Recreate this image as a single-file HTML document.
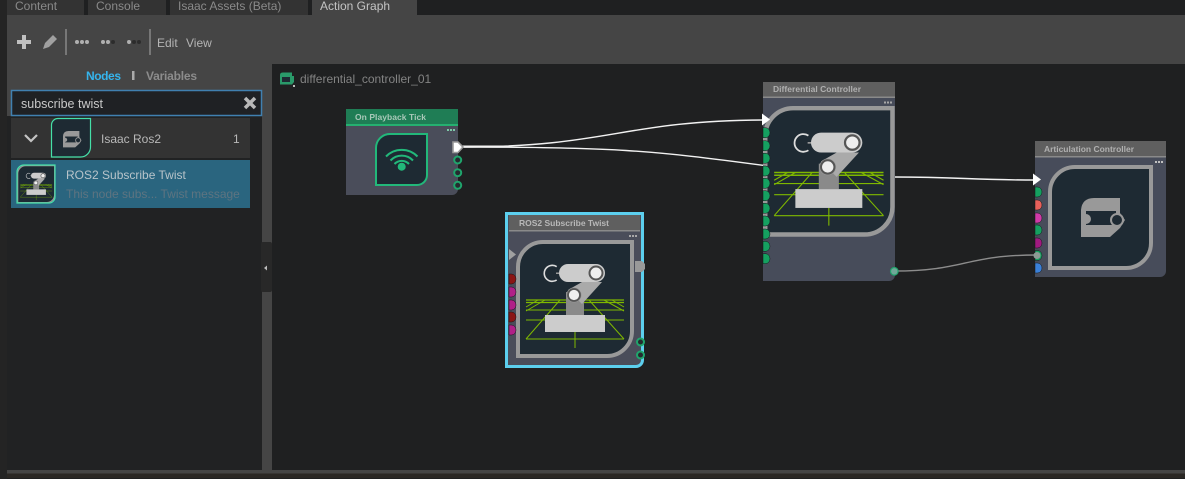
<!DOCTYPE html>
<html><head><meta charset="utf-8"><style>
html,body{margin:0;padding:0;background:#1f2021;width:1185px;height:479px;overflow:hidden}
svg{display:block}
text{font-family:"Liberation Sans",sans-serif}
</style></head><body>
<svg width="1185" height="479" viewBox="0 0 1185 479" xmlns="http://www.w3.org/2000/svg">
<defs>
<g id="robot">
<path d="M27 2H116V91A25 25 0 0 1 91 116H2V27A25 25 0 0 1 27 2Z" fill="#1e2a33" stroke="#999" stroke-width="4"/>
<g stroke="#7fb800" fill="none">
<path d="M10 60H108M10 62.500H108" stroke-width="1.300"/>
<path d="M10 70H108M10 80H108M10 99H108" stroke-width="1"/>
<path d="M10 99L44 60M108 99L73 60M10 71L29 60M108 71L88 60M10 67L22 60M108 67L96 60M59 92V108" stroke-width="1"/>
</g>
<path d="M40.700 26.700A8 8 0 1 0 40.700 40" fill="none" stroke="#ddd" stroke-width="1.600"/>
<rect x="40" y="32.500" width="5" height="1.500" fill="#999"/>
<path d="M50 52H68V75H50Z" fill="#8a8a8a"/>
<path d="M66 42H86L66 64L52 50Z" fill="#aaa"/>
<rect x="43" y="24" width="46" height="18" rx="9" fill="#ccc"/>
<circle cx="80" cy="33" r="6.500" fill="#eee" stroke="#555" stroke-width="2"/>
<circle cx="58" cy="55" r="7.500" fill="#999"/>
<circle cx="58" cy="55" r="6" fill="#eee" stroke="#555" stroke-width="1.800"/>
<rect x="29" y="75" width="60" height="17" fill="#ccc"/>
</g>
<g id="pin"><path d="M0 -5H2.500A4.500 5 0 0 1 2.500 5H0Z" stroke="#15171a" stroke-width=".5"/></g>
<path id="exec" d="M0 -6L8 0L0 6Z" fill="#fff"/>
<g id="node-icon">
<!-- origin at 1081,198 ; size 39x39 -->
<path d="M0 39V12Q1 0 13 0H39V15L44 22L39 30L29 39Z" fill="#999"/>
<path d="M5 13H35V27H5V26A5 5 0 0 0 5 16Z" fill="#1e2a33"/>
<circle cx="36" cy="22" r="6" fill="#1e2a33" stroke="#999" stroke-width="2"/>
</g>
</defs>

<!-- chrome -->
<rect width="1185" height="479" fill="#1f2021"/>
<rect x="7" y="15" width="1178" height="49" fill="#454545"/>
<rect x="7" y="64" width="265" height="52" fill="#454545"/>
<rect x="262" y="64" width="10" height="406" fill="#454545"/>
<rect x="7" y="116" width="255" height="354" fill="#212223"/>
<rect x="7" y="470" width="1178" height="3.500" fill="#454545"/>
<rect x="7" y="473.500" width="1178" height="4.500" fill="#2a2724"/>
<rect x="0" y="0" width="7" height="479" fill="#242424"/>
<!-- tabs -->
<rect x="7" y="0" width="77" height="15" fill="#333"/>
<rect x="88" y="0" width="78" height="15" fill="#333"/>
<rect x="170" y="0" width="138" height="15" fill="#333"/>
<rect x="312" y="0" width="105" height="15" fill="#454545"/>
<text x="15" y="10" font-size="12" fill="#8a8a8a">Content</text>
<text x="96" y="10" font-size="12" fill="#8a8a8a">Console</text>
<text x="178" y="10" font-size="12" fill="#8a8a8a">Isaac Assets (Beta)</text>
<text x="320" y="10" font-size="12" fill="#c4c4c4">Action Graph</text>
<!-- toolbar -->
<path d="M22 35h4v5h5v4h-5v5h-4v-5h-5v-4h5z" fill="#c0c0c0"/>
<path d="M43 49l2-6 8-8 4 4-8 8z" fill="#a0a0a0"/>
<rect x="65" y="29" width="2" height="26" fill="#777"/>
<g fill="#b0b0b0"><circle cx="77" cy="42" r="2"/><circle cx="82" cy="42" r="2"/><circle cx="87" cy="42" r="2"/>
<circle cx="103" cy="42" r="2"/><circle cx="108" cy="42" r="2"/><circle cx="129" cy="42" r="2"/></g>
<g fill="#2c2c2c"><circle cx="113" cy="42" r="2"/><circle cx="134" cy="42" r="2"/><circle cx="139" cy="42" r="2"/></g>
<rect x="149" y="29" width="2" height="26" fill="#777"/>
<text x="157" y="47" font-size="12" fill="#b4b4b4">Edit</text>
<text x="186" y="47" font-size="12" fill="#b4b4b4">View</text>
<!-- panel -->
<text x="86" y="80" font-size="12" font-weight="bold" fill="#35b4ec" textLength="35">Nodes</text>
<rect x="132" y="71" width="2.500" height="9" fill="#aaa"/>
<text x="146" y="80" font-size="12" font-weight="bold" fill="#8c8c8c" textLength="51">Variables</text>
<rect x="11.500" y="90.500" width="250" height="25" fill="#1f2124" stroke="#4080b0" stroke-width="1.500"/>
<text x="21" y="108" font-size="12.500" fill="#c8c8c8">subscribe twist</text>
<path d="M245 98l10 10M255 98l-10 10" stroke="#b8b8b8" stroke-width="3.500"/>
<rect x="11" y="118" width="239" height="40" fill="#333"/>
<path d="M25 135l6 6 6-6" fill="none" stroke="#c4c4c4" stroke-width="2.200"/>
<path d="M58 118.500H90.500V147A10 10 0 0 1 80.500 157H51.500V125A6.500 6.500 0 0 1 58 118.500Z" fill="#1e2a33" stroke="#45e0a8" stroke-width="1.200"/>
<g transform="translate(63,131) scale(.42)"><use href="#node-icon"/></g>
<text x="101" y="143" font-size="12" fill="#b8b8b8">Isaac Ros2</text>
<text x="233" y="143" font-size="12" fill="#b8b8b8">1</text>
<rect x="11" y="160" width="239" height="48" fill="#2a657f"/>
<g transform="translate(17,165) scale(.325)"><use href="#robot"/></g>
<path d="M24 165H55V197A6 6 0 0 1 49 203H17V172A7 7 0 0 1 24 165Z" fill="none" stroke="#45e0a8" stroke-width="1.200"/>
<text x="66" y="179" font-size="12" fill="#b8c4ca">ROS2 Subscribe Twist</text>
<text x="66" y="198" font-size="12" fill="#5e7480">This node subs... Twist message</text>
<!-- splitter handle -->
<rect x="261" y="242" width="11" height="50" rx="2" fill="#282828"/>
<path d="M264 268l3-2.500v5z" fill="#bbb"/>
<!-- graph title -->
<path d="M280 75q0-2.500 3-2.500h9v3.500h2v6l-2 2.500h-12z" fill="#2a9a6a"/>
<rect x="282" y="77" width="8" height="5" fill="#1e2a33"/>
<rect x="293" y="85" width="2" height="2" fill="#bbb"/>
<text x="300" y="83" font-size="12" fill="#838383">differential_controller_01</text>

<!-- connections -->
<g fill="none">
<path d="M460 147C610 147 620 121 763 120" stroke="#f2f2f2" stroke-width="1.400"/>
<path d="M460 147C610 147 650 150 768 166" stroke="#f2f2f2" stroke-width="1.400"/>
<path d="M462 146.500H505" stroke="#f4f4f4" stroke-width="2"/>
<path d="M894 177C960 177 970 180 1035 180" stroke="#f2f2f2" stroke-width="1.400"/>
<path d="M894 271C965 271 965 255 1037 255" stroke="#8c8c8c" stroke-width="1.400"/>
</g>

<!-- On Playback Tick -->
<path d="M346 109H458V189A6 6 0 0 1 452 195H346Z" fill="#4a4d5a"/>
<rect x="346" y="109" width="112" height="15" fill="#1f7d55"/>
<rect x="346" y="124" width="112" height="2" fill="#25b070"/>
<text x="355" y="120" font-size="8.500" font-weight="bold" fill="#a8c8b8" textLength="71">On Playback Tick</text>
<g fill="#7ec8a8"><rect x="447" y="129" width="2" height="2"/><rect x="450" y="129" width="2" height="2"/><rect x="453" y="129" width="2" height="2"/></g>
<path d="M390 134H427V175A10 10 0 0 1 417 185H376V148A14 14 0 0 1 390 134Z" fill="#1e2a33" stroke="#22b87a" stroke-width="2"/>
<circle cx="401.700" cy="166.700" r="4" fill="#22b87a"/>
<g fill="none" stroke="#22b87a" stroke-width="2">
<path d="M394.500 164a10 10 0 0 1 14.500 0"/><path d="M390.500 160.500a15.500 15.500 0 0 1 22.500 0"/><path d="M386 156.500a22 22 0 0 1 31.500 0"/>
</g>
<path d="M453 142H458L463 147L458 152.500H453Z" fill="#fff" stroke="#9a9a9a" stroke-width="1.600"/>
<g fill="#262a30" stroke="#1fa56c" stroke-width="2"><circle cx="457.700" cy="160" r="3.500"/><circle cx="457.700" cy="172.700" r="3.500"/><circle cx="457.700" cy="185.300" r="3.500"/></g>

<!-- ROS2 Subscribe Twist -->
<path d="M506.500 213.500H642.500V360A6.500 6.500 0 0 1 636 366.500H506.500Z" fill="#4a4d5a" stroke="#5ccfee" stroke-width="3"/>
<rect x="509" y="215" width="131" height="15" fill="#5f5f5f"/>
<rect x="509" y="230" width="131" height="1.500" fill="#8a8a8a"/>
<text x="519" y="226" font-size="8.500" font-weight="bold" fill="#b8b8b8" textLength="90">ROS2 Subscribe Twist</text>
<g fill="#a8a8a8"><rect x="629" y="235" width="2" height="2"/><rect x="632" y="235" width="2" height="2"/><rect x="635" y="235" width="2" height="2"/></g>
<g transform="translate(516,240)"><use href="#robot"/></g>
<path d="M509 249L516 254.500L509 260Z" fill="#a0a0a0"/>
<g transform="translate(509,279)" fill="#8a1515"><use href="#pin"/></g>
<g transform="translate(509,292)" fill="#b02088"><use href="#pin"/></g>
<g transform="translate(509,305)" fill="#b02088"><use href="#pin"/></g>
<g transform="translate(509,317)" fill="#8a1515"><use href="#pin"/></g>
<g transform="translate(509,330)" fill="#b02088"><use href="#pin"/></g>
<path d="M635 261H642L645 264V269L642 272H635Z" fill="#999"/>
<g fill="#262a30" stroke="#1fa56c" stroke-width="2"><circle cx="640.500" cy="342" r="3.500"/><circle cx="640.500" cy="355" r="3.500"/></g>

<!-- Differential Controller -->
<path d="M763 82H895V275A6 6 0 0 1 889 281H763Z" fill="#474c5a"/>
<rect x="763" y="82" width="132" height="15" fill="#5f5f5f"/>
<rect x="763" y="96.500" width="132" height="1.500" fill="#8a8a8a"/>
<text x="773" y="92" font-size="8.500" font-weight="bold" fill="#b0b0b0" textLength="88">Differential Controller</text>
<g fill="#a8a8a8"><rect x="884" y="101.500" width="2" height="2"/><rect x="887" y="101.500" width="2" height="2"/><rect x="890" y="101.500" width="2" height="2"/></g>
<g transform="translate(763,106) scale(1.116,1.108)"><use href="#robot"/></g>
<g fill="#15a060">
<use href="#pin" x="763" y="132.700"/><use href="#pin" x="763" y="145.700"/><use href="#pin" x="763" y="158.300"/>
<use href="#pin" x="763" y="171"/><use href="#pin" x="763" y="183.300"/><use href="#pin" x="763" y="195.700"/>
<use href="#pin" x="763" y="208.300"/><use href="#pin" x="763" y="221"/><use href="#pin" x="763" y="234"/>
<use href="#pin" x="763" y="246.300"/><use href="#pin" x="763" y="258.700"/>
</g>
<use href="#exec" x="762" y="119.500"/>
<circle cx="894.300" cy="271.300" r="3.800" fill="#6fa898" stroke="#1fa56c" stroke-width="1.200"/>

<!-- Articulation Controller -->
<path d="M1035 141H1166V271A6 6 0 0 1 1160 277H1035Z" fill="#474c5a"/>
<rect x="1035" y="141" width="131" height="15" fill="#5f5f5f"/>
<rect x="1035" y="156" width="131" height="1.500" fill="#8a8a8a"/>
<text x="1044" y="152" font-size="8.500" font-weight="bold" fill="#b0b0b0" textLength="90">Articulation Controller</text>
<g fill="#c0c0c0"><rect x="1155" y="161" width="2" height="2"/><rect x="1158" y="161" width="2" height="2"/><rect x="1161" y="161" width="2" height="2"/></g>
<path d="M1075 167H1151V243A25 25 0 0 1 1126 268H1050V192A25 25 0 0 1 1075 167Z" fill="#1e2a33" stroke="#999" stroke-width="4"/>
<g transform="translate(1081,198)"><use href="#node-icon"/></g>
<g>
<use href="#pin" x="1035" y="192" fill="#15a060"/><use href="#pin" x="1035" y="205" fill="#e8605a"/>
<use href="#pin" x="1035" y="218" fill="#d03aa8"/><use href="#pin" x="1035" y="230" fill="#15a060"/>
<use href="#pin" x="1035" y="243" fill="#a01a80"/><use href="#pin" x="1035" y="255.500" fill="#15a060"/>
<use href="#pin" x="1035" y="268" fill="#3a80d8"/>
</g>
<circle cx="1037" cy="255.500" r="3.500" fill="#8c9a94"/>
<use href="#exec" x="1033" y="179.500"/>
</svg>
</body></html>
